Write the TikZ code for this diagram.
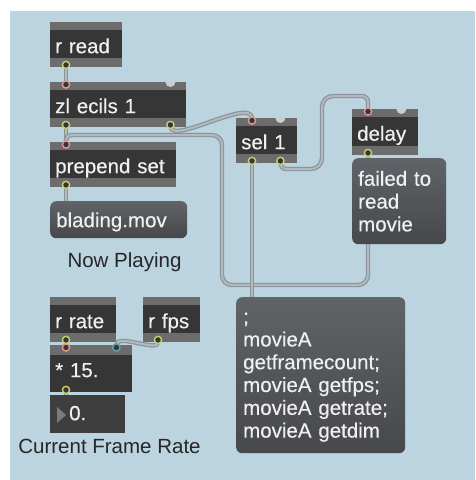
\documentclass[tikz,border=0pt]{standalone}
\usepackage{fontspec}
\setmainfont{Liberation Sans}
\newfontfamily\heavyfont[FakeBold=0.35]{Liberation Sans}
\usetikzlibrary{calc}
\definecolor{bgblue}{RGB}{188,211,224}
\definecolor{objbody}{RGB}{54,54,54}
\definecolor{stripc}{RGB}{108,108,108}
\definecolor{msgtop}{RGB}{96,99,103}
\definecolor{msgbot}{RGB}{70,72,75}
\definecolor{numbody}{RGB}{62,62,62}
\definecolor{cordedge}{RGB}{138,148,154}
\definecolor{cordfill}{RGB}{178,186,191}
\definecolor{hotring}{RGB}{226,150,150}
\definecolor{outring}{RGB}{200,208,110}
\definecolor{coldring}{RGB}{95,160,178}
\definecolor{coldfill}{RGB}{205,205,205}
\definecolor{txtw}{RGB}{240,240,240}
\newcommand\mxfont{\heavyfont\fontsize{20.5pt}{22.8pt}\selectfont}
\newcommand\lblfont{\fontsize{20.5pt}{22.8pt}\selectfont}
\pgfdeclarelayer{back}
\pgfdeclarelayer{bg}
\pgfsetlayers{back,bg,main}
\tikzset{
  obj/.style={anchor=north west, inner xsep=5pt, inner ysep=0pt, minimum height=45pt,
    fill=objbody, text=txtw, font=\mxfont, align=left, text height=21pt, text depth=4pt,
    path picture={
      \fill[stripc] (path picture bounding box.north west) rectangle ([yshift=-8pt]path picture bounding box.north east);
      \fill[stripc] (path picture bounding box.south west) rectangle ([yshift=9pt]path picture bounding box.south east);
    }},
  msg/.style={anchor=north west, inner xsep=6pt, inner ysep=0pt, rounded corners=6pt,
    top color=msgtop, bottom color=msgbot, text=txtw, font=\mxfont, align=left},
  numbox/.style={anchor=north west, inner xsep=19pt, inner ysep=0pt, minimum height=38pt,
    fill=numbody, text=txtw, font=\mxfont, align=left, text height=16pt, text depth=4pt},
  lbl/.style={anchor=base, font=\lblfont, text=black!85, inner sep=0pt},
  cord/.style={draw=cordedge, double=cordfill, double distance=2pt, line width=1.2pt},
  hotin/.style={fill=objbody, draw=hotring, line width=1.4pt},
  outlt/.style={fill=objbody, draw=outring, line width=1.4pt},
  coldin/.style={fill=objbody, draw=coldring, line width=1.4pt},
  coldfree/.style={fill=coldfill},
}
\begin{document}
\begin{tikzpicture}[x=1pt,y=-1pt]
\useasboundingbox (0,0) rectangle (475,480);
\begin{pgfonlayer}{back}
\fill[white] (0,0) rectangle (475,480);
\fill[bgblue] (10,11) rectangle (475,480);
\end{pgfonlayer}

% objects
\node[obj, text width=62pt] (rread) at (50,22) {r read};
\node[obj, text width=126pt] (zl) at (50,82) {zl ecils 1};
\node[obj, text width=116pt] (prep) at (50,142) {prepend set};
\node[msg, text width=125pt, minimum height=37pt, text height=19pt, text depth=4pt] (blading) at (50,201) {blading.mov};
\node[lbl] (nowplaying) at (124.5,267) {Now Playing};
\node[obj, text width=51pt] (sel) at (236,118) {sel 1};
\node[obj, text width=56pt, minimum height=46pt] (delay) at (352,109) {delay};
\node[msg, text width=82pt, minimum height=86pt] (failed) at (352,158) {failed to\\read\\movie};
\node[msg, text width=155pt, minimum height=156pt, inner xsep=7pt] (big) at (236,297)
  {\rule{0pt}{15pt};\\movieA\\getframecount;\\movieA getfps;\\movieA getrate;\\movieA getdim};
\node[obj, text width=56pt] (rrate) at (50,297) {r rate};
\node[obj, text width=47pt] (rfps) at (143,297) {r fps};
\node[obj, text width=72pt, minimum height=47pt, path picture={
      \fill[stripc] (path picture bounding box.north west) rectangle ([yshift=-10pt]path picture bounding box.north east);}] (mul) at (50,345) {* 15.};
\node[numbox, text width=37pt] (num) at (50,395) {0.};
\fill[stripc!90!white] ([xshift=7pt,yshift=-12pt]num.north west) -- ([xshift=16pt,yshift=-20pt]num.north west) -- ([xshift=7pt,yshift=-28pt]num.north west) -- cycle;
\node[lbl] (cfr) at (109.5,453) {Current Frame Rate};

% ports
\coordinate (rreado) at ([xshift=16pt]rread.south west);
\coordinate (zli1) at ([xshift=16pt]zl.north west);
\coordinate (zli2) at ([xshift=-16pt]zl.north east);
\coordinate (zlo1) at ([xshift=16pt]zl.south west);
\coordinate (zlo2) at ([xshift=-16pt]zl.south east);
\coordinate (prepi) at ([xshift=16pt]prep.north west);
\coordinate (prepo) at ([xshift=16pt]prep.south west);
\coordinate (bladi) at ([xshift=16pt]blading.north west);
\coordinate (seli1) at ([xshift=16pt]sel.north west);
\coordinate (seli2) at ([xshift=-17pt]sel.north east);
\coordinate (selo1) at ([xshift=16pt]sel.south west);
\coordinate (selo2) at ([xshift=-17pt]sel.south east);
\coordinate (delayi1) at ([xshift=16pt]delay.north west);
\coordinate (delayi2) at ([xshift=-17pt]delay.north east);
\coordinate (delayo) at ([xshift=16pt]delay.south west);
\coordinate (failedi) at ([xshift=16pt]failed.north west);
\coordinate (failedo) at ([xshift=16pt]failed.south west);
\coordinate (bigi) at ([xshift=16pt]big.north west);
\coordinate (rrateo) at ([xshift=16pt]rrate.south west);
\coordinate (rfpso) at ([xshift=15pt]rfps.south west);
\coordinate (muli1) at ([xshift=16pt]mul.north west);
\coordinate (muli2) at ([xshift=-16pt]mul.north east);
\coordinate (mulo) at ([xshift=16pt]mul.south west);
\coordinate (numi) at ([xshift=16pt]num.north west);

% cords
\begin{pgfonlayer}{bg}
\draw[cord] (rreado) -- (zli1);
\draw[cord] (zlo1) -- (prepi);
\draw[cord] (prepo) -- (bladi);
\draw[cord, rounded corners=10pt] (failedo) -- (failedo |- 0,285) -- (222,285) -- (222,135) [rounded corners=5pt] -- (prepi |- 0,135) -- (prepi);
\draw[cord] (zlo2) .. controls +(4,16) and +(-2,-20) .. (seli1);
\draw[cord, rounded corners=6pt] (selo2) -- (selo2 |- 0,169) [rounded corners=11pt] -- (322,169) -- (322,96) [rounded corners=6pt] -- (delayi1 |- 0,96) -- (delayi1);
\draw[cord] (selo1) -- (bigi);
\draw[cord] (delayo) -- (failedi);
\draw[cord] (rrateo) -- (muli1);
\draw[cord] (rfpso) .. controls +(0,10) and +(0,-12) .. (muli2);
\draw[cord] (mulo) -- (numi);
\end{pgfonlayer}

% port rings
\foreach \p in {zli1,prepi,seli1,delayi1,muli1}
  \draw[hotin] ([yshift=-2.5pt]\p) circle (3.6pt);
\foreach \p in {rreado,zlo1,zlo2,prepo,selo1,selo2,delayo,rrateo,rfpso,mulo}
  \draw[outlt] ([yshift=2.5pt]\p) circle (3.6pt);
\draw[coldin] ([yshift=-2.5pt]muli2) circle (3.6pt);
\foreach \p in {zli2,seli2,delayi2}
  \fill[coldfree] ([xshift=-5pt]\p) arc[start angle=180, end angle=360, radius=5pt] -- cycle;
\end{tikzpicture}
\end{document}
